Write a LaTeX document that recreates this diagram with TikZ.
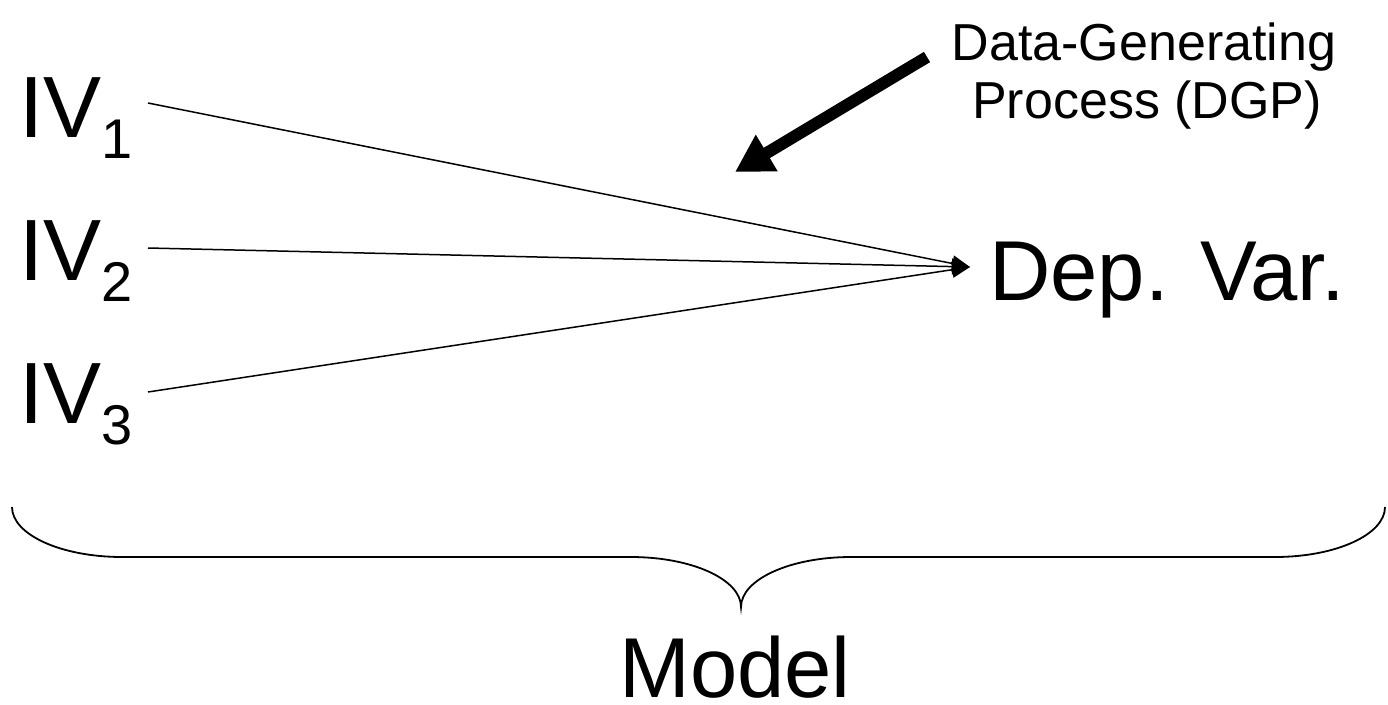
\documentclass[tikz,border=0pt]{standalone}
\usepackage{fontspec}
\setmainfont{Liberation Sans}
\usetikzlibrary{arrows.meta}
\newcommand\ivsub[1]{\raisebox{-21pt}{\fontsize{56}{60}\selectfont #1}}
\begin{document}
\begin{tikzpicture}[x=1pt,y=-1pt,
  ivlabel/.style={anchor=base west, inner sep=0pt, font=\fontsize{87}{100}\selectfont},
  biglabel/.style={anchor=base, inner sep=0pt, font=\fontsize{85}{100}\selectfont},
  smalllabel/.style={anchor=base, inner sep=0pt, font=\fontsize{52}{60}\selectfont},
  link/.style={line width=1.5pt, -{Triangle[length=18pt,width=16pt]}},
  bigarrow/.style={line width=12pt, -{Triangle[length=37pt,width=40pt]}},
  brace/.style={line width=1.8pt}]
\useasboundingbox (0,0) rectangle (1388,704);

% independent variables
\node[ivlabel] (iv1) at (19,137) {IV\ivsub{1}};
\node[ivlabel] (iv2) at (19,280) {IV\ivsub{2}};
\node[ivlabel] (iv3) at (19,423) {IV\ivsub{3}};

% dependent variable
\node[biglabel, anchor=base west] (dep) at (989,300) {Dep. Var.};

% data-generating process label
\node[smalllabel] (dgp1) at (1144,60) {Data-Generating};
\node[smalllabel] (dgp2) at (1147,118) {Process (DGP)};

% model label
\node[biglabel] (model) at (735,697) {Model};

% connector ends
\coordinate (s1) at (148,103);
\coordinate (s2) at (148,248);
\coordinate (s3) at (148,392);
\coordinate (hub) at (970,267);
\coordinate (dgptail) at (927,57);
\coordinate (dgphead) at (735,172);

\draw[link] (s1) -- (hub);
\draw[link] (s2) -- (hub);
\draw[link] (s3) -- (hub);
\draw[bigarrow] (dgptail) -- (dgphead);

% brace under everything
\draw[brace] (12,507)
  arc[start angle=180, end angle=90, x radius=110, y radius=50]
  -- (631,557)
  arc[start angle=270, end angle=360, x radius=110, y radius=50]
  arc[start angle=180, end angle=270, x radius=110, y radius=50]
  -- (1275,557)
  arc[start angle=90, end angle=0, x radius=110, y radius=50];
\end{tikzpicture}
\end{document}
